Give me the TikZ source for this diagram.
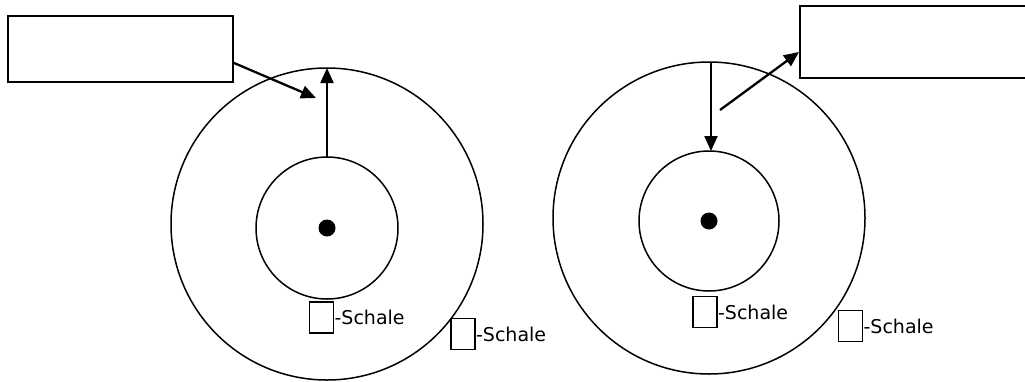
\documentclass[tikz,border=0pt]{standalone}
\usepackage{fontspec}
\setmainfont{DejaVu Sans}
\usetikzlibrary{arrows.meta,positioning}

\tikzset{
  ring/.style={line width=1.5pt},
  pointer/.style={line width=2.3pt,-{Triangle[length=15pt,width=13pt]}},
  namebox/.style={draw,line width=1.8pt,inner sep=0pt},
  shellbox/.style={draw,line width=1.8pt,inner sep=0pt,minimum width=24pt,minimum height=31pt},
  shelltext/.style={anchor=west,inner sep=0pt,font=\fontsize{19}{21}\selectfont}
}

\begin{document}
\begin{tikzpicture}[x=1pt,y=-1pt]
  \useasboundingbox (0,0) rectangle (1025,381);

  % left atom
  \draw[ring] (327,224) circle[radius=156];
  \draw[ring] (327,228) circle[radius=71];
  \fill (327,228) circle[radius=8.5];
  \coordinate (lin) at (327,157);
  \coordinate (lout) at (327,68);
  \coordinate (ltip) at (316,98);
  \node[namebox,minimum width=225pt,minimum height=66pt] (lbox) at (120.5,49) {};
  \draw[pointer] (lin) -- (lout);
  \draw[pointer] (lbox.-7) -- (ltip);

  \node[shellbox] (lk) at (321.5,317.5) {};
  \node[shelltext] at (lk.east) {-Schale};
  \node[shellbox] (ll) at (463,334) {};
  \node[shelltext] at (ll.east) {-Schale};

  % right atom
  \draw[ring] (709,218) circle[radius=156];
  \draw[ring] (709,221) circle[radius=70];
  \fill (709,221) circle[radius=8.5];
  \coordinate (rout) at (711,63);
  \coordinate (rin) at (711,151);
  \coordinate (rfoot) at (720,110);
  \node[namebox,anchor=north west,minimum width=240pt,minimum height=72pt] (rbox) at (799,5) {};
  \draw[pointer] (rout) -- (rin);
  \draw[pointer] (rfoot) -- (rbox.west |- 0,52);

  \node[shellbox] (rk) at (705,312) {};
  \node[shelltext] at (rk.east) {-Schale};
  \node[shellbox] (rl) at (850.5,326) {};
  \node[shelltext] at (rl.east) {-Schale};
\end{tikzpicture}
\end{document}
